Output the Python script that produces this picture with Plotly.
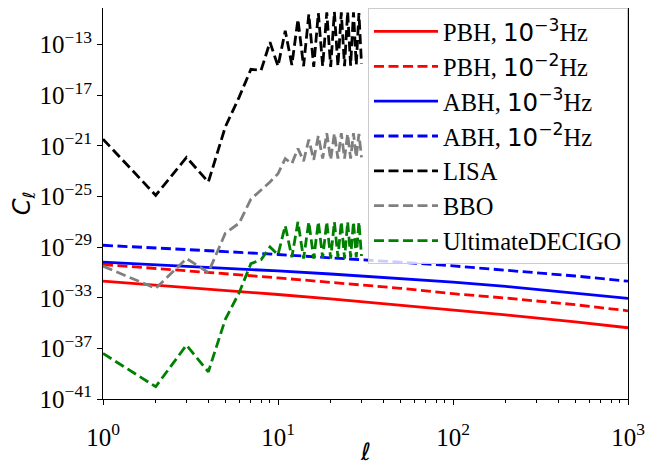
import plotly.graph_objects as go

# theory curves: multipole ell and log10(C_ell)
ell_th = [1, 2, 3, 5, 10, 20, 50, 100, 200, 500, 1000]
pbh_3 = [-31.69, -31.99, -32.17, -32.41, -32.74, -33.09, -33.58, -33.98, -34.36, -34.91, -35.37]
pbh_2 = [-30.37, -30.67, -30.86, -31.10, -31.43, -31.78, -32.25, -32.68, -33.02, -33.55, -34.03]
abh_3 = [-30.19, -30.38, -30.50, -30.66, -30.88, -31.12, -31.48, -31.77, -32.10, -32.61, -33.05]
abh_2 = [-28.85, -29.05, -29.18, -29.35, -29.58, -29.83, -30.19, -30.48, -30.80, -31.28, -31.69]

# detector noise curves, ell = 1..30
ell_det = list(range(1, 31))
lisa = [-20.46, -24.9, -21.9, -23.85, -19.5, -17.14, -14.95, -15.03, -12.8, -14.7,
        -11.9, -14.6, -11.0, -14.7, -10.6, -14.75, -10.5, -14.7, -10.45, -14.75,
        -10.4, -14.7, -10.45, -14.7, -10.4, -14.65, -10.45, -14.6, -10.5, -14.5]
bbo = [-30.5, -32.26, -29.9, -31.0, -27.9, -27.1, -25.2, -24.5, -23.85, -23.2,
       -22.0, -22.4, -21.2, -22.2, -20.5, -22.1, -20.2, -22.0, -20.0, -22.1,
       -20.0, -22.0, -20.0, -22.0, -20.05, -22.0, -20.0, -21.9, -20.05, -21.9]
decigo = [-37.4, -40.03, -36.74, -38.85, -34.7, -32.6, -30.3, -30.0, -28.98, -29.6,
          -27.3, -29.8, -27.0, -29.9, -27.0, -29.9, -27.0, -29.85, -27.0, -29.9,
          -27.0, -29.8, -27.0, -29.9, -27.0, -29.8, -27.0, -29.8, -27.0, -29.7]

y_tick_exp = [-41, -37, -33, -29, -25, -21, -17, -13]
x_tick_exp = [0, 1, 2, 3]

SERIF = "Liberation Serif"
SANS = "DejaVu Sans"


def lab(name, e):
    return (f"{name}, <span style='font-family:{SANS}'>10<sup>−{e}</sup></span>Hz")


series = [
    (lab("PBH", 3), ell_th, pbh_3, "#ff0000", "solid"),
    (lab("PBH", 2), ell_th, pbh_2, "#ff0000", "dash"),
    (lab("ABH", 3), ell_th, abh_3, "#0000ff", "solid"),
    (lab("ABH", 2), ell_th, abh_2, "#0000ff", "dash"),
    ("LISA", ell_det, lisa, "#000000", "dash"),
    ("BBO", ell_det, bbo, "#808080", "dash"),
    ("UltimateDECIGO", ell_det, decigo, "#008000", "dash"),
]

fig = go.Figure()
for name, xs, ys, col, dash in series:
    fig.add_trace(go.Scatter(
        x=xs, y=[10 ** v for v in ys], mode="lines", name=name,
        line=dict(color=col, width=2.8, dash="10px,4.5px" if dash == "dash" else "solid"),
    ))

minor_x = [m * 10 ** d for d in range(0, 3) for m in range(2, 10)]
tickfont = dict(family=SERIF, size=25, color="black")

# the page body adds an 8px offset, so the figure is sized/margined to compensate
fig.update_layout(
    width=647, height=453,
    margin=dict(l=95, r=27, t=0, b=62),
    paper_bgcolor="white", plot_bgcolor="white",
    font=dict(family=SERIF, size=21, color="black"),
    showlegend=True,
    legend=dict(
        x=1, xanchor="right", y=1, yanchor="top",
        bgcolor="rgba(255,255,255,0.8)", bordercolor="#cccccc", borderwidth=1,
        font=dict(family=SERIF, size=24.5, color="black"),
        itemwidth=64,
    ),
    xaxis=dict(
        type="log", range=[0, 3], automargin=False,
        tickmode="array", tickvals=[10 ** e for e in x_tick_exp],
        ticktext=[f"10<sup>{e}</sup>" for e in x_tick_exp],
        tickfont=tickfont, ticklabelstandoff=11,
        ticks="outside", ticklen=4.5, tickwidth=1, tickcolor="black",
        minor=dict(tickmode="array", tickvals=minor_x, ticks="outside", ticklen=2.8,
                   tickwidth=0.8, tickcolor="black", showgrid=False),
        showline=True, linecolor="black", linewidth=1.2, mirror=True,
        showgrid=False, zeroline=False,
    ),
    yaxis=dict(
        type="log", range=[-41, -10.1], automargin=False,
        tickmode="array", tickvals=[10 ** e for e in y_tick_exp],
        ticktext=[f"10<sup>−{-e}</sup>" for e in y_tick_exp],
        tickfont=tickfont,
        ticks="outside", ticklen=5, tickwidth=1, tickcolor="black",
        showline=True, linecolor="black", linewidth=1.2, mirror=True,
        showgrid=False, zeroline=False,
        title=dict(text="<i>C</i><sub>ℓ</sub>", font=dict(family=SANS, size=24, color="black"), standoff=6),
    ),
    annotations=[dict(
        text="<i>ℓ</i>", xref="paper", yref="paper", x=0.5, y=-0.136,
        xanchor="center", yanchor="middle", showarrow=False,
        font=dict(family=SANS, size=24, color="black"),
    )],
)

fig.write_html("out.html")
